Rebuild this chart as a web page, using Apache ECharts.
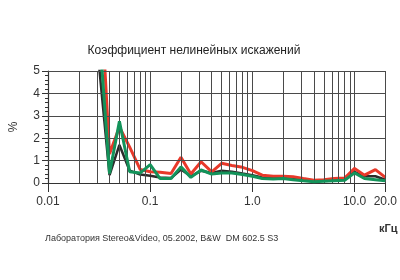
<!DOCTYPE html>
<html><head><meta charset="utf-8">
<script src="https://cdn.jsdelivr.net/npm/echarts@6/dist/echarts.min.js"></script>
<style>html,body{margin:0;padding:0;background:#fff}#c{width:400px;height:280px}</style>
</head><body><div id="c"></div>
<script>
var freqs = [0.0315,0.04,0.05,0.063,0.08,0.1,0.125,0.16,0.2,0.25,0.315,0.4,0.5,0.63,0.8,1.0,1.25,1.6,2.0,2.5,3.15,4,5,6.3,8,10,12.5,16,20];
var redVals   = [10,1.3,2.5,1.6,0.6,0.5,0.48,0.42,1.15,0.4,0.95,0.5,0.88,0.78,0.7,0.55,0.35,0.3,0.3,0.28,0.2,0.12,0.15,0.2,0.22,0.65,0.35,0.6,0.25];
var greenVals = [7,0.42,2.75,0.5,0.45,0.82,0.2,0.2,0.72,0.25,0.58,0.4,0.45,0.45,0.38,0.3,0.2,0.18,0.2,0.15,0.1,0.06,0.08,0.1,0.12,0.45,0.2,0.15,0.1];
var blackVals = [5.3,0.35,1.7,0.55,0.38,0.32,0.25,0.22,0.6,0.3,0.55,0.45,0.55,0.5,0.42,0.35,0.25,0.22,0.22,0.18,0.12,0.1,0.1,0.12,0.15,0.5,0.3,0.3,0.15];
var xTickValues = [0.01,0.1,1,10,20];
var xTickLabels = ['0.01','0.1','1.0','10.0','20.0'];
var minorGridFreqs = [0.02,0.03,0.04,0.05,0.06,0.07,0.08,0.09,0.2,0.3,0.4,0.5,0.6,0.7,0.8,0.9,2,3,4,5,6,7,8,9,20];
var yGridValues = [1,2,3,4,5];
var titleText = 'Коэффициент нелинейных искажений';
var footerText = 'Лаборатория Stereo&Video, 05.2002, B&W  DM 602.5 S3';
var unitText = 'кГц';
var yName = '%';

function pair(xs, ys){ return xs.map(function(x,i){ return [x, ys[i]]; }); }
function fmtX(v){
  for (var i=0;i<xTickValues.length;i++){ if (Math.abs(v-xTickValues[i])/xTickValues[i] < 1e-6) return xTickLabels[i]; }
  return '';
}
var gridColor = '#4a4a4a';
var gridLines = minorGridFreqs.map(function(f){ return {xAxis:f}; })
  .concat(yGridValues.map(function(v){ return {yAxis:v}; }));

var chart = echarts.init(document.getElementById('c'));
chart.setOption({
  animation:false,
  textStyle:{fontFamily:'Liberation Sans'},
  title:[
    {text:titleText, left:189, top:40, textAlign:'center', textStyle:{fontSize:12, fontWeight:'normal', color:'#222', fontFamily:'Liberation Sans'}},
    {text:footerText, left:40, top:229, textStyle:{fontSize:9, fontWeight:'normal', color:'#333', fontFamily:'Liberation Sans'}},
    {text:unitText, left:374, top:218, textStyle:{fontSize:11, fontWeight:'bold', color:'#333', fontFamily:'Liberation Sans'}}
  ],
  grid:{left:42, right:12, top:71, bottom:97},
  xAxis:{type:'log', logBase:10, min:0.01, max:20,
    axisLine:{show:true, lineStyle:{color:'#333', width:1.2}},
    axisTick:{show:true, length:9, lineStyle:{color:'#333'}},
    axisLabel:{formatter:fmtX, fontSize:12, color:'#333', margin:13, showMaxLabel:true, showMinLabel:true, hideOverlap:false},
    splitLine:{show:true, lineStyle:{color:gridColor}}
  },
  yAxis:{type:'value', min:0, max:5, interval:1, name:yName, nameLocation:'middle', nameGap:28, nameRotate:90,
    axisLine:{show:true, lineStyle:{color:'#333', width:1.2}},
    axisTick:{show:true, length:6},
    minorTick:{show:true, splitNumber:5, length:3},
    axisLabel:{color:'#333'},
    splitLine:{show:true, lineStyle:{color:gridColor}}
  },
  series:[
    {type:'line', data:pair(freqs, blackVals), showSymbol:false, symbol:'none', lineStyle:{color:'#2b2b2b', width:2.5}, z:3,
      markLine:{silent:true, symbol:['none','none'], label:{show:false}, animation:false,
        lineStyle:{color:gridColor, width:1, type:'solid'}, data:gridLines}},
    {type:'line', data:pair(freqs, redVals), showSymbol:false, symbol:'none', lineStyle:{color:'#e8392a', width:3}, z:4},
    {type:'line', data:pair(freqs, greenVals), showSymbol:false, symbol:'none', lineStyle:{color:'#13935a', width:3}, z:5}
  ]
});
</script></body></html>
